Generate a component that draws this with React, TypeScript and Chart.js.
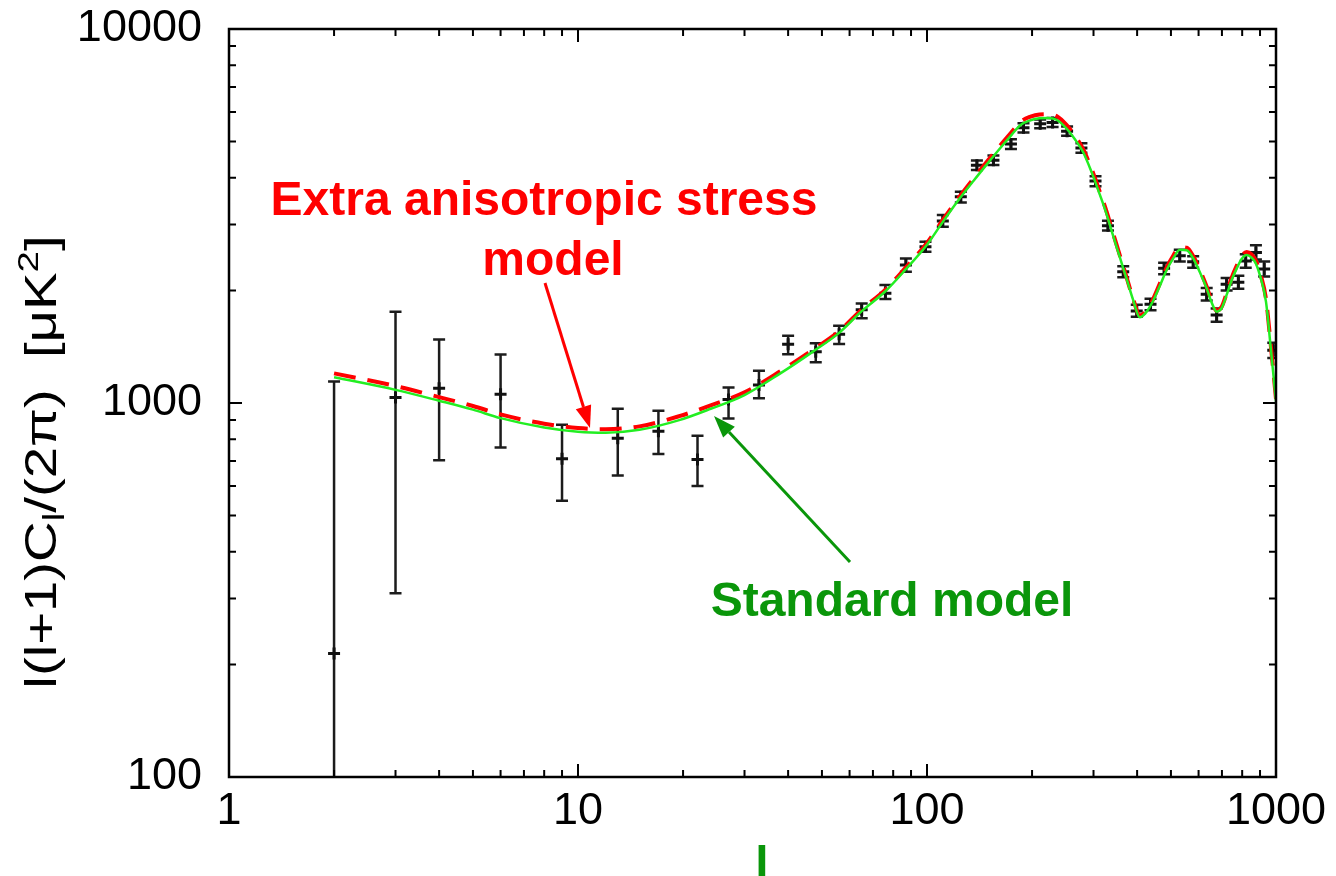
import React, { useEffect, useRef } from "react";
import { Chart, registerables } from "chart.js";

Chart.register(...registerables);

// ---- measured data points (multipole l, value, error-bar low/high) ----
const multipoleL = [2, 3, 4, 6, 9, 13, 17, 22, 27, 33, 40, 48, 56, 65, 76, 87, 99, 111, 125, 139, 155, 174, 189, 211, 229, 252, 277, 304, 330, 365, 399, 437, 478, 530, 579, 633, 676, 722, 780, 819, 876, 925, 982];
const dataCl = [214, 1035, 1095, 1056, 710, 805, 840, 706, 1022, 1118, 1436, 1372, 1527, 1775, 1965, 2339, 2618, 3065, 3558, 4325, 4460, 4925, 5441, 5577, 5625, 5332, 4809, 3920, 2978, 2244, 1762, 1836, 2291, 2477, 2386, 1952, 1720, 2076, 2102, 2397, 2527, 2283, 1384];
const errLow = [40, 310, 703, 760, 548, 640, 730, 600, 909, 1030, 1351, 1285, 1438, 1684, 1897, 2244, 2539, 2960, 3438, 4200, 4330, 4780, 5290, 5430, 5470, 5180, 4670, 3800, 2890, 2170, 1700, 1770, 2210, 2390, 2300, 1880, 1650, 2000, 2020, 2300, 2420, 2180, 1320];
const errHigh = [1141, 1754, 1478, 1349, 875, 965, 953, 817, 1100, 1219, 1514, 1444, 1610, 1844, 2068, 2436, 2699, 3181, 3671, 4450, 4590, 5070, 5600, 5730, 5780, 5490, 4950, 4040, 3070, 2320, 1830, 1900, 2370, 2570, 2470, 2030, 1790, 2160, 2190, 2500, 2640, 2390, 1450];

// ---- model curves ----
const modelL = [2, 3, 4, 5, 6, 8, 10, 12, 15, 19.5, 24, 30, 38, 47, 56, 65, 76, 87, 100, 111, 124, 136, 150, 162, 175, 185, 198, 210, 222, 235, 251, 265, 280, 296, 313, 327, 341, 357, 373, 390, 407, 425, 445, 465, 486, 508, 530, 555, 579, 606, 633, 655, 676, 698, 722, 746, 772, 798, 824, 850, 876, 905, 936, 967, 1000];
const standardModel = [1172, 1084, 1014, 960, 911, 860, 838, 833, 848, 900, 965, 1050, 1200, 1370, 1540, 1760, 1990, 2280, 2650, 3050, 3520, 3930, 4400, 4800, 5220, 5530, 5700, 5770, 5780, 5720, 5420, 5080, 4690, 4150, 3600, 3200, 2810, 2450, 2150, 1880, 1695, 1750, 1880, 2060, 2268, 2440, 2570, 2560, 2436, 2230, 2025, 1850, 1755, 1790, 1945, 2130, 2291, 2430, 2487, 2450, 2358, 2150, 1866, 1389, 1009];
const anisoModel = [1200, 1110, 1037, 982, 932, 880, 857, 851, 866, 922, 985, 1068, 1216, 1385, 1556, 1778, 2010, 2305, 2680, 3085, 3565, 3985, 4470, 4880, 5310, 5640, 5830, 5910, 5920, 5850, 5540, 5190, 4780, 4230, 3660, 3250, 2850, 2480, 2170, 1895, 1715, 1760, 1900, 2090, 2300, 2480, 2610, 2600, 2470, 2260, 2045, 1865, 1765, 1805, 1965, 2160, 2330, 2475, 2535, 2500, 2400, 2190, 1900, 1415, 1025];

// ---- axes ----
const xTicks = [1, 10, 100, 1000];
const yTicks = [100, 1000, 10000];
const xMinorTicks = [2, 3, 4, 5, 6, 7, 8, 9, 20, 30, 40, 50, 60, 70, 80, 90, 200, 300, 400, 500, 600, 700, 800, 900];
const yMinorTicks = [200, 300, 400, 500, 600, 700, 800, 900, 2000, 3000, 4000, 5000, 6000, 7000, 8000, 9000];

// ---- texts ----
const yTitleParts = [
  { text: "l(l+1)C", kind: "normal" },
  { text: "l", kind: "sub" },
  { text: "/(2π)  [μK", kind: "normal" },
  { text: "2", kind: "sup" },
  { text: "]", kind: "normal" },
];
const xTitle = "l";
const anisoLabel = ["Extra anisotropic stress", "model"];
const standardLabel = "Standard model";

const FONT = '"Liberation Sans", Arial, Helvetica, sans-serif';
const RED = "#ff0000";
const DARK_GREEN = "#0a960a";
const CURVE_GREEN = "#22ee22";

function drawArrow(ctx: CanvasRenderingContext2D, x0: number, y0: number, x1: number, y1: number, color: string) {
  const ang = Math.atan2(y1 - y0, x1 - x0);
  const headLen = 22;
  const headHalf = 8;
  const bx = x1 - headLen * Math.cos(ang);
  const by = y1 - headLen * Math.sin(ang);
  ctx.save();
  ctx.strokeStyle = color;
  ctx.fillStyle = color;
  ctx.lineWidth = 3;
  ctx.beginPath();
  ctx.moveTo(x0, y0);
  ctx.lineTo(bx, by);
  ctx.stroke();
  ctx.beginPath();
  ctx.moveTo(x1, y1);
  ctx.lineTo(bx + headHalf * Math.sin(ang), by - headHalf * Math.cos(ang));
  ctx.lineTo(bx - headHalf * Math.sin(ang), by + headHalf * Math.cos(ang));
  ctx.closePath();
  ctx.fill();
  ctx.restore();
}

const errorBarPlugin = {
  id: "errorBars",
  beforeDatasetsDraw(chart: any) {
    const { ctx, chartArea: a, scales } = chart;
    const x = scales.x;
    const y = scales.y;
    ctx.save();
    ctx.beginPath();
    ctx.rect(a.left, a.top, a.right - a.left, a.bottom - a.top);
    ctx.clip();
    ctx.strokeStyle = "#1c1c1c";
    ctx.lineWidth = 2.5;
    multipoleL.forEach((l, i) => {
      const px = x.getPixelForValue(l);
      const yl = y.getPixelForValue(errLow[i]);
      const yh = y.getPixelForValue(errHigh[i]);
      ctx.beginPath();
      ctx.moveTo(px, yl);
      ctx.lineTo(px, yh);
      ctx.moveTo(px - 6, yh);
      ctx.lineTo(px + 6, yh);
      ctx.moveTo(px - 6, yl);
      ctx.lineTo(px + 6, yl);
      ctx.stroke();
    });
    ctx.restore();
  },
};

const framePlugin = {
  id: "frame",
  afterDatasetsDraw(chart: any) {
    const { ctx, chartArea: a, scales } = chart;
    const x = scales.x;
    const y = scales.y;
    ctx.save();
    ctx.strokeStyle = "#000";
    ctx.lineWidth = 2;
    const major = 13;
    const minor = 7;
    const tickX = (v: number, len: number) => {
      const px = x.getPixelForValue(v);
      ctx.beginPath();
      ctx.moveTo(px, a.bottom);
      ctx.lineTo(px, a.bottom - len);
      ctx.moveTo(px, a.top);
      ctx.lineTo(px, a.top + len);
      ctx.stroke();
    };
    const tickY = (v: number, len: number) => {
      const py = y.getPixelForValue(v);
      ctx.beginPath();
      ctx.moveTo(a.left, py);
      ctx.lineTo(a.left + len, py);
      ctx.moveTo(a.right, py);
      ctx.lineTo(a.right - len, py);
      ctx.stroke();
    };
    xTicks.forEach((v) => tickX(v, major));
    xMinorTicks.forEach((v) => tickX(v, minor));
    yTicks.forEach((v) => tickY(v, major));
    yMinorTicks.forEach((v) => tickY(v, minor));
    ctx.lineWidth = 2.5;
    ctx.strokeRect(a.left, a.top, a.right - a.left, a.bottom - a.top);
    ctx.restore();
  },
};

const annotationPlugin = {
  id: "annotations",
  afterDraw(chart: any) {
    const { ctx } = chart;
    ctx.save();
    // annotation texts
    ctx.textAlign = "center";
    ctx.textBaseline = "alphabetic";
    ctx.font = `bold 48px ${FONT}`;
    ctx.fillStyle = RED;
    ctx.fillText(anisoLabel[0], 544, 215);
    ctx.fillText(anisoLabel[1], 553, 275);
    ctx.fillStyle = DARK_GREEN;
    ctx.fillText(standardLabel, 892, 616);
    // arrows
    drawArrow(ctx, 545, 283, 590, 428, RED);
    drawArrow(ctx, 850, 562, 714, 416, DARK_GREEN);
    // x axis title
    ctx.fillStyle = DARK_GREEN;
    ctx.font = `bold 48px ${FONT}`;
    ctx.fillText(xTitle, 762, 880);
    // y axis title (rotated, with sub/superscript)
    const bigF = `44px ${FONT}`;
    const smallF = `30px ${FONT}`;
    let total = 0;
    const widths = yTitleParts.map((p) => {
      ctx.font = p.kind === "normal" ? bigF : smallF;
      const w = ctx.measureText(p.text).width;
      total += w;
      return w;
    });
    ctx.translate(56, 462);
    ctx.rotate(-Math.PI / 2);
    ctx.scale(1.28, 1);
    ctx.textAlign = "left";
    ctx.fillStyle = "#000";
    let u = -total / 2;
    yTitleParts.forEach((p, i) => {
      ctx.font = p.kind === "normal" ? bigF : smallF;
      const dv = p.kind === "sub" ? 8 : p.kind === "sup" ? -18 : 0;
      ctx.fillText(p.text, u, dv);
      u += widths[i];
    });
    ctx.restore();
  },
};

export default function App() {
  const ref = useRef<HTMLCanvasElement | null>(null);

  useEffect(() => {
    document.body.style.margin = "0";
    const canvas = ref.current;
    if (!canvas) return;
    const tickFont = { family: FONT, size: 45 };
    const chart = new Chart(canvas, {
      type: "line",
      data: {
        datasets: [
          {
            label: "Standard model",
            data: modelL.map((l, i) => ({ x: l, y: standardModel[i] })),
            borderColor: CURVE_GREEN,
            borderWidth: 2.5,
            pointRadius: 0,
            cubicInterpolationMode: "monotone",
            fill: false,
            order: 1,
          },
          {
            label: "Extra anisotropic stress model",
            data: modelL.map((l, i) => ({ x: l, y: anisoModel[i] })),
            borderColor: RED,
            borderWidth: 4,
            borderDash: [22, 12],
            pointRadius: 0,
            cubicInterpolationMode: "monotone",
            fill: false,
            order: 2,
          },
          {
            type: "scatter",
            label: "Data",
            data: multipoleL.map((l, i) => ({ x: l, y: dataCl[i] })),
            pointStyle: "cross",
            pointRadius: 6,
            borderColor: "#111",
            borderWidth: 3,
            showLine: false,
            order: 3,
          } as any,
        ],
      },
      options: {
        responsive: false,
        animation: false,
        layout: { padding: { top: 29, right: 60, left: 0, bottom: 0 } },
        plugins: { legend: { display: false }, tooltip: { enabled: false } },
        scales: {
          x: {
            type: "logarithmic",
            min: 1,
            max: 1000,
            afterBuildTicks: (s: any) => {
              s.ticks = xTicks.map((v) => ({ value: v }));
            },
            afterFit: (s: any) => {
              s.height = 99;
              s.paddingLeft = 0;
              s.paddingRight = 0;
            },
            ticks: {
              callback: (v: any) => String(v),
              font: tickFont,
              color: "#000",
              padding: 8,
              maxRotation: 0,
              autoSkip: false,
            },
            grid: { display: false, drawTicks: false },
            border: { display: false },
          },
          y: {
            type: "logarithmic",
            min: 100,
            max: 10000,
            afterBuildTicks: (s: any) => {
              s.ticks = yTicks.map((v) => ({ value: v }));
            },
            afterFit: (s: any) => {
              s.width = 229;
              s.paddingTop = 0;
              s.paddingBottom = 0;
            },
            ticks: {
              callback: (v: any) => String(v),
              font: tickFont,
              color: "#000",
              padding: 27,
              autoSkip: false,
            },
            grid: { display: false, drawTicks: false },
            border: { display: false },
          },
        },
      } as any,
      plugins: [errorBarPlugin, framePlugin, annotationPlugin],
    });
    return () => chart.destroy();
  }, []);

  return (
    <div style={{ width: 1336, height: 876, background: "#fff" }}>
      <canvas ref={ref} width={1336} height={876} style={{ display: "block" }} />
    </div>
  );
}
